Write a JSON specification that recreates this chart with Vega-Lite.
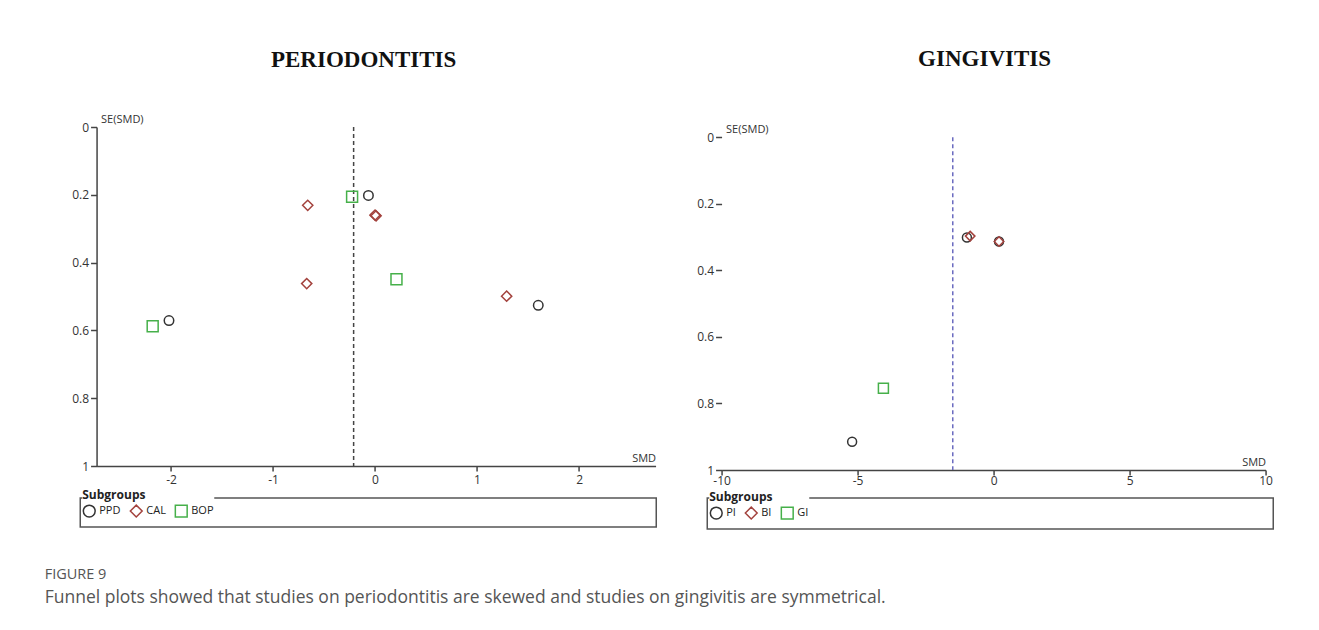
{
  "$schema": "https://vega.github.io/schema/vega-lite/v6.json",
  "background": "white",
  "padding": {"left": 44, "top": 48, "right": 0, "bottom": 0},
  "datasets": {
    "perio": [
      {"Subgroup": "PPD", "SMD": -2.02, "SE": 0.571},
      {"Subgroup": "PPD", "SMD": -0.065, "SE": 0.202},
      {"Subgroup": "PPD", "SMD": 1.6, "SE": 0.526},
      {"Subgroup": "CAL", "SMD": -0.66, "SE": 0.231},
      {"Subgroup": "CAL", "SMD": -0.67, "SE": 0.462},
      {"Subgroup": "CAL", "SMD": 0.0, "SE": 0.26},
      {"Subgroup": "CAL", "SMD": 0.01, "SE": 0.262},
      {"Subgroup": "CAL", "SMD": 1.29, "SE": 0.499},
      {"Subgroup": "BOP", "SMD": -2.18, "SE": 0.588},
      {"Subgroup": "BOP", "SMD": -0.225, "SE": 0.206},
      {"Subgroup": "BOP", "SMD": 0.21, "SE": 0.449}
    ],
    "ging": [
      {"Subgroup": "PI", "SMD": -0.98, "SE": 0.301},
      {"Subgroup": "PI", "SMD": 0.2, "SE": 0.313},
      {"Subgroup": "PI", "SMD": -5.2, "SE": 0.915},
      {"Subgroup": "BI", "SMD": -0.86, "SE": 0.297},
      {"Subgroup": "BI", "SMD": 0.2, "SE": 0.313},
      {"Subgroup": "GI", "SMD": -4.05, "SE": 0.754}
    ]
  },
  "config": {
    "view": {"stroke": null},
    "font": "Open Sans",
    "axis": {
      "grid": false,
      "domainColor": "#444",
      "domainWidth": 1.5,
      "tickColor": "#444",
      "tickWidth": 1.5,
      "tickSize": 6,
      "labelColor": "#333",
      "labelFont": "Open Sans",
      "labelFontSize": 12,
      "labelFlush": false,
      "labelOverlap": false,
      "titleFont": "Open Sans",
      "titleFontSize": 11,
      "titleFontWeight": "normal",
      "titleColor": "#333"
    },
    "legend": {
      "orient": "none",
      "legendX": 2,
      "legendY": -8,
      "direction": "horizontal",
      "fillColor": "white",
      "padding": 0,
      "symbolOpacity": 1,
      "symbolSize": 140,
      "symbolStrokeWidth": 1.5,
      "titleFont": "Open Sans",
      "titleFontWeight": "bold",
      "titleFontSize": 12,
      "titleColor": "#222",
      "titlePadding": 2,
      "labelFont": "Open Sans",
      "labelFontSize": 11,
      "labelColor": "#222",
      "labelOffset": 3,
      "columnPadding": 6
    },
    "title": {
      "font": "Liberation Serif",
      "fontSize": 23,
      "fontWeight": "bold",
      "color": "#111"
    }
  },
  "title": {
    "text": "FIGURE 9",
    "subtitle": "Funnel plots showed that studies on periodontitis are skewed and studies on gingivitis are symmetrical.",
    "orient": "bottom",
    "anchor": "start",
    "frame": "bounds",
    "dx": -27,
    "offset": 38,
    "font": "Open Sans",
    "fontSize": 14.5,
    "fontWeight": "normal",
    "color": "#555",
    "subtitleFont": "Open Sans",
    "subtitleFontSize": 17.5,
    "subtitleColor": "#555",
    "subtitlePadding": 7
  },
  "spacing": 3,
  "center": true,
  "resolve": {
    "scale": {"color": "independent", "shape": "independent", "size": "independent", "x": "independent", "y": "independent"},
    "legend": {"color": "independent", "shape": "independent"}
  },
  "vconcat": [
    {
      "spacing": 41,
      "resolve": {
        "scale": {"color": "independent", "shape": "independent", "size": "independent", "x": "independent", "y": "independent"},
        "legend": {"color": "independent", "shape": "independent"}
      },
      "hconcat": [
        {
          "title": {"text": "PERIODONTITIS", "frame": "bounds", "anchor": "middle", "offset": 41},
          "width": 559,
          "height": 339,
          "layer": [
            {
              "data": {"values": [{"pooled": -0.21}]},
              "mark": {"type": "rule", "strokeDash": [4, 3], "color": "#444", "strokeWidth": 1.5},
              "encoding": {"x": {"field": "pooled", "type": "quantitative"}}
            },
            {
              "data": {"name": "perio"},
              "mark": {"type": "point", "filled": false, "strokeWidth": 1.5, "opacity": 1},
              "encoding": {
                "x": {
                  "field": "SMD", "type": "quantitative",
                  "scale": {"domain": [-2.73, 2.75], "nice": false, "zero": false},
                  "axis": {
                    "title": "SMD", "values": [-2, -1, 0, 1, 2],
                    "titleX": 559, "titleY": -3, "titleAlign": "right", "titleBaseline": "bottom",
                    "labelExpr": "datum.value < 0 ? '-' + format(-datum.value, '~g') : format(datum.value, '~g')",
                    "tickSize": 5, "labelPadding": 3
                  }
                },
                "y": {
                  "field": "SE", "type": "quantitative",
                  "scale": {"domain": [0, 1], "reverse": true, "nice": false, "zero": false},
                  "axis": {
                    "title": "SE(SMD)", "values": [0, 0.2, 0.4, 0.6, 0.8, 1],
                    "labelExpr": "format(datum.value, '~g')",
                    "titleAngle": 0, "titleX": 4, "titleY": -3, "titleAlign": "left", "titleBaseline": "bottom",
                    "labelPadding": 2
                  }
                },
                "shape": {"field": "Subgroup", "type": "nominal", "scale": {"domain": ["PPD", "CAL", "BOP"], "range": ["circle", "diamond", "square"]}, "legend": null},
                "color": {"field": "Subgroup", "type": "nominal", "scale": {"domain": ["PPD", "CAL", "BOP"], "range": ["#333333", "#a3423d", "#46b04a"]}, "legend": null},
                "size": {"field": "Subgroup", "type": "nominal", "scale": {"domain": ["PPD", "CAL", "BOP"], "range": [90, 120, 50]}, "legend": null}
              }
            }
          ]
        },
        {
          "title": {"text": "GINGIVITIS", "frame": "bounds", "anchor": "middle", "offset": 52},
          "width": 544,
          "height": 343,
          "layer": [
            {
              "mark": {"type": "rule", "color": "#444", "strokeWidth": 1.5},
              "encoding": {
                "x": {"datum": -10, "type": "quantitative"},
                "y": {"datum": 0, "type": "quantitative"},
                "y2": {"datum": 1}
              }
            },
            {
              "data": {"values": [{"pooled": -1.5}]},
              "mark": {"type": "rule", "strokeDash": [4, 3], "color": "#6b6bc0", "strokeWidth": 1.5},
              "encoding": {
                "x": {"field": "pooled", "type": "quantitative"},
                "y": {"datum": 0, "type": "quantitative"},
                "y2": {"datum": 1}
              }
            },
            {
              "data": {"name": "ging"},
              "mark": {"type": "point", "filled": false, "strokeWidth": 1.5, "opacity": 1},
              "encoding": {
                "x": {
                  "field": "SMD", "type": "quantitative",
                  "scale": {"domain": [-10, 10], "nice": false, "zero": false},
                  "axis": {
                    "title": "SMD", "values": [-10, -5, 0, 5, 10],
                    "titleX": 544, "titleY": -3, "titleAlign": "right", "titleBaseline": "bottom",
                    "labelExpr": "datum.value < 0 ? '-' + format(-datum.value, '~g') : format(datum.value, '~g')",
                    "tickSize": 5, "labelPadding": 0
                  }
                },
                "y": {
                  "field": "SE", "type": "quantitative",
                  "scale": {"domain": [-0.031, 1], "reverse": true, "nice": false, "zero": false},
                  "axis": {
                    "title": "SE(SMD)", "values": [0, 0.2, 0.4, 0.6, 0.8, 1],
                    "domain": false,
                    "labelExpr": "format(datum.value, '~g')",
                    "titleAngle": 0, "titleX": 4, "titleY": 7, "titleAlign": "left", "titleBaseline": "bottom",
                    "labelPadding": 2
                  }
                },
                "shape": {"field": "Subgroup", "type": "nominal", "scale": {"domain": ["PI", "BI", "GI"], "range": ["circle", "diamond", "square"]}, "legend": null},
                "color": {"field": "Subgroup", "type": "nominal", "scale": {"domain": ["PI", "BI", "GI"], "range": ["#333333", "#a3423d", "#46b04a"]}, "legend": null},
                "size": {"field": "Subgroup", "type": "nominal", "scale": {"domain": ["PI", "BI", "GI"], "range": [80, 100, 50]}, "legend": null}
              }
            }
          ]
        }
      ]
    },
    {
      "spacing": 49,
      "resolve": {
        "scale": {"color": "independent", "shape": "independent", "size": "independent", "x": "independent", "y": "independent"},
        "legend": {"color": "independent", "shape": "independent"}
      },
      "hconcat": [
        {
          "width": 576,
          "height": 29,
          "view": {"stroke": "#555", "strokeWidth": 1.5},
          "data": {"values": [{"Subgroup": "PPD"}, {"Subgroup": "CAL"}, {"Subgroup": "BOP"}]},
          "mark": {"type": "point", "filled": false, "opacity": 0, "strokeWidth": 1.5},
          "encoding": {
            "shape": {"field": "Subgroup", "type": "nominal", "scale": {"domain": ["PPD", "CAL", "BOP"], "range": ["circle", "diamond", "square"]}, "legend": {"title": "Subgroups", "legendY": -8}},
            "color": {"field": "Subgroup", "type": "nominal", "scale": {"domain": ["PPD", "CAL", "BOP"], "range": ["#333333", "#a3423d", "#46b04a"]}, "legend": {"title": "Subgroups", "legendY": -8}}
          }
        },
        {
          "width": 566,
          "height": 31,
          "view": {"stroke": "#555", "strokeWidth": 1.5},
          "data": {"values": [{"Subgroup": "PI"}, {"Subgroup": "BI"}, {"Subgroup": "GI"}]},
          "mark": {"type": "point", "filled": false, "opacity": 0, "strokeWidth": 1.5},
          "encoding": {
            "y": {"field": "Subgroup", "type": "nominal", "axis": {"orient": "right", "labels": false, "ticks": true, "tickSize": 14, "tickColor": "transparent", "domain": false, "title": null}},
            "shape": {"field": "Subgroup", "type": "nominal", "scale": {"domain": ["PI", "BI", "GI"], "range": ["circle", "diamond", "square"]}, "legend": {"title": "Subgroups", "legendY": -6}},
            "color": {"field": "Subgroup", "type": "nominal", "scale": {"domain": ["PI", "BI", "GI"], "range": ["#333333", "#a3423d", "#46b04a"]}, "legend": {"title": "Subgroups", "legendY": -6}}
          }
        }
      ]
    }
  ]
}
